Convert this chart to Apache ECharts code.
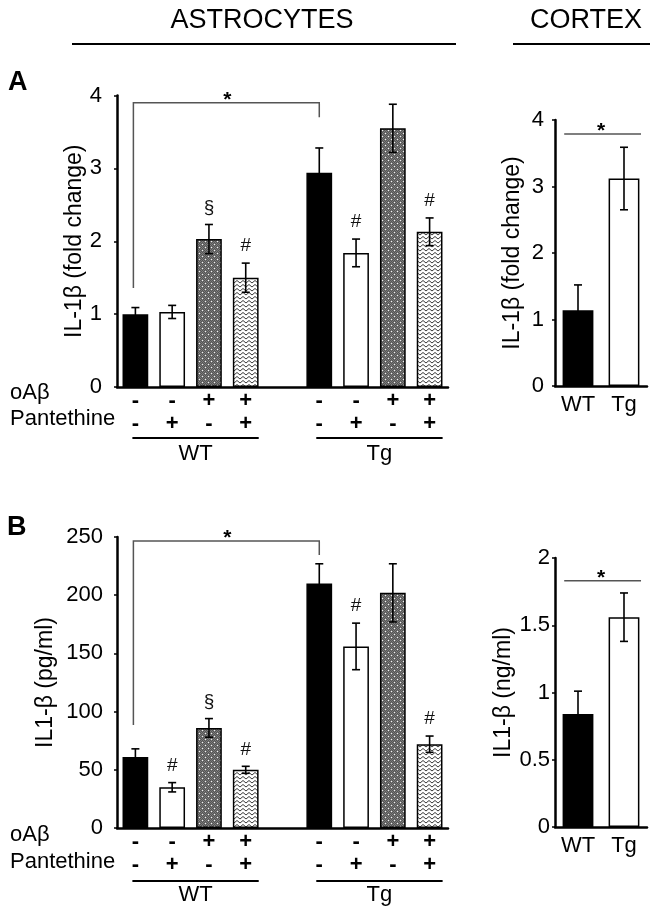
<!DOCTYPE html>
<html><head><meta charset="utf-8">
<script src="https://cdn.jsdelivr.net/npm/echarts@6/dist/echarts.min.js"></script>
<style>html,body{margin:0;padding:0;background:#fff}#c{width:663px;height:913px}</style>
</head><body><div id="c"></div>
<script>
// ---------- data ----------
const astroCats = ['-|-', '-|+', '+|-', '+|+', '', '-|-', '-|+', '+|-', '+|+'];
const astroFills = ['black', 'white', 'dots', 'zigzag', null, 'black', 'white', 'dots', 'zigzag'];
const cortexCats = ['WT', 'Tg'];
const cortexFills = ['black', 'white'];

const astroFold = [1.0, 1.03, 2.03, 1.50, null, 2.94, 1.84, 3.55, 2.13];
const astroFoldErr = [0.09, 0.09, 0.20, 0.20, null, 0.34, 0.19, 0.33, 0.19];
const astroFoldMarks = ['', '', '§', '#', '', '', '#', '', '#'];
const cortexFold = [1.14, 3.12];
const cortexFoldErr = [0.38, 0.47];

const astroPg = [61, 35, 86, 50, null, 210, 156, 202, 72];
const astroPgErr = [7, 4, 8, 3, null, 17, 20, 25, 7];
const astroPgMarks = ['', '#', '§', '#', '', '', '#', '', '#'];
const cortexNg = [0.84, 1.56];
const cortexNgErr = [0.17, 0.18];

// bracket: [fromIndex, toIndex, topValue, leftLegEnd, rightLegEnd]
const astroFoldBracket = [0, 5, 3.9, 1.36, 3.7];
const astroPgBracket = [0, 5, 246.5, 88.5, 234.5];
const cortexFoldLine = 3.79;
const cortexNgLine = 1.83;

const groups = ['WT', 'Tg'];
const groupRanges = [[0, 3], [5, 8]];

// ---------- styling helpers ----------
const FONT = '"Liberation Sans", Arial, sans-serif';

function dotsPattern() {
  const c = document.createElement('canvas'); c.width = 6; c.height = 6;
  const g = c.getContext('2d');
  g.fillStyle = '#7a7a7a'; g.fillRect(0, 0, 6, 6);
  g.fillStyle = '#555';
  for (let y = 0; y < 6; y++) for (let x = 0; x < 6; x++) if ((x + y) % 2 === 0) g.fillRect(x, y, 1, 1);
  g.fillStyle = '#f4f4f4';
  g.fillRect(1, 1, 1, 1); g.fillRect(4, 4, 1, 1);
  return c;
}
function zigzagPattern() {
  const c = document.createElement('canvas'); c.width = 6; c.height = 4;
  const g = c.getContext('2d');
  g.fillStyle = '#fff'; g.fillRect(0, 0, 6, 4);
  g.strokeStyle = '#3a3a3a'; g.lineWidth = 1;
  g.beginPath(); g.moveTo(0, 3); g.lineTo(3, 0.5); g.lineTo(6, 3); g.stroke();
  return c;
}
const DOTS = { image: dotsPattern(), repeat: 'repeat' };
const ZIG = { image: zigzagPattern(), repeat: 'repeat' };
function fillOf(t) {
  return t === 'black' ? '#000' : t === 'white' ? '#fff' : t === 'dots' ? DOTS : ZIG;
}
function barData(vals, fills) {
  return vals.map((v, i) => v == null ? '-' : {
    value: v, itemStyle: { color: fillOf(fills[i]), borderColor: '#000', borderWidth: 1.5 }
  });
}
function errData(vals, errs) {
  const out = [];
  vals.forEach((v, i) => { if (v != null) out.push([i, v - errs[i], v + errs[i]]); });
  return out;
}
function errRender(params, api) {
  const x = api.value(0);
  const lo = api.coord([x, api.value(1)]);
  const hi = api.coord([x, api.value(2)]);
  const hw = 4;
  const st = { stroke: '#000', lineWidth: 1.6 };
  return { type: 'group', children: [
    { type: 'line', shape: { x1: hi[0], y1: hi[1], x2: lo[0], y2: lo[1] }, style: st },
    { type: 'line', shape: { x1: hi[0] - hw, y1: hi[1], x2: hi[0] + hw, y2: hi[1] }, style: st },
    { type: 'line', shape: { x1: lo[0] - hw, y1: lo[1], x2: lo[0] + hw, y2: lo[1] }, style: st }
  ]};
}
function markData(vals, errs, marks) {
  const out = [];
  vals.forEach((v, i) => { if (v != null && marks[i]) out.push([i, v + errs[i], marks[i]]); });
  return out;
}
function markRender(params, api) {
  const p = api.coord([api.value(0), api.value(1)]);
  return { type: 'text', x: p[0], y: p[1] - 17, style: {
    text: api.value(2), fill: '#111', font: '19px ' + FONT, align: 'center', verticalAlign: 'middle' } };
}
function bracketRender(b) {
  return function (params, api) {
    const a = api.coord([b[0], b[2]]);
    const c = api.coord([b[1], b[2]]);
    const la = api.coord([b[0], b[3]]);
    const rc = api.coord([b[1], b[4]]);
    return { type: 'group', children: [
      { type: 'polyline', shape: { points: [[la[0] - 2, la[1]], [a[0] - 2, a[1]], [c[0], c[1]], [rc[0], rc[1]]] }, style: { stroke: '#555', lineWidth: 1.5, fill: null } },
      { type: 'text', x: (a[0] + c[0]) / 2, y: a[1] - 3, style: { text: '*', font: 'bold 21px ' + FONT, fill: '#000', align: 'center', verticalAlign: 'middle' } }
    ]};
  };
}
function lineRender(params, api) {
  const v = api.value(1);
  const bw = api.size([1, 0])[0];
  const a = api.coord([0, v]);
  const c = api.coord([1, v]);
  return { type: 'group', children: [
    { type: 'line', shape: { x1: a[0] - bw * 0.3, y1: a[1], x2: c[0] + bw * 0.37, y2: c[1] }, style: { stroke: '#555', lineWidth: 1.5 } },
    { type: 'text', x: (a[0] + c[0]) / 2, y: a[1] - 3, style: { text: '*', font: 'bold 21px ' + FONT, fill: '#000', align: 'center', verticalAlign: 'middle' } }
  ]};
}

function signFmt(v) { return v ? v.split('|').join('\n') : ''; }

function xCat(grid, data, isSigns) {
  return {
    gridIndex: grid, type: 'category', data: data,
    axisLine: { lineStyle: { color: '#000', width: 2.5 } },
    axisTick: { show: false },
    axisLabel: isSigns
      ? { interval: 0, formatter: signFmt, color: '#000', fontFamily: FONT, fontSize: 22, fontWeight: 'bold', lineHeight: 23, margin: 2 }
      : { interval: 0, color: '#000', fontFamily: FONT, fontSize: 22, margin: 8 }
  };
}
function yVal(grid, max, interval, name, gap, margin) {
  return {
    gridIndex: grid, type: 'value', min: 0, max: max, interval: interval,
    axisLine: { show: true, lineStyle: { color: '#000', width: 2.5 } },
    axisTick: { show: true, length: 3, lineStyle: { color: '#000', width: 1.5 } },
    splitLine: { show: false },
    axisLabel: { color: '#000', fontFamily: FONT, fontSize: 22, margin: margin },
    name: name, nameLocation: 'middle', nameGap: gap,
    nameTextStyle: { color: '#000', fontFamily: FONT, fontSize: 23 }
  };
}

const chart = echarts.init(document.getElementById('c'));
const option = {
  animation: false,
  backgroundColor: '#fff',
  grid: [
    { left: 117, top: 95.5, width: 331, height: 291.5 },
    { left: 555, top: 120, width: 92, height: 266 },
    { left: 117, top: 537, width: 331, height: 291 },
    { left: 555, top: 558, width: 92, height: 269 }
  ],
  xAxis: [
    xCat(0, astroCats, true), xCat(1, cortexCats, false),
    xCat(2, astroCats, true), xCat(3, cortexCats, false)
  ],
  yAxis: [
    yVal(0, 4, 1, 'IL-1β (fold change)', 30, 15),
    yVal(1, 4, 1, 'IL-1β (fold change)', 31, 11),
    yVal(2, 250, 50, 'IL1-β (pg/ml)', 60, 14),
    yVal(3, 2, 0.5, 'IL1-β (ng/ml)', 38, 5)
  ],
  series: [
    { type: 'bar', xAxisIndex: 0, yAxisIndex: 0, barWidth: '70%', data: barData(astroFold, astroFills) },
    { type: 'custom', xAxisIndex: 0, yAxisIndex: 0, renderItem: errRender, data: errData(astroFold, astroFoldErr), encode: { x: 0, y: [1, 2] }, clip: false, z: 3 },
    { type: 'custom', xAxisIndex: 0, yAxisIndex: 0, renderItem: markRender, data: markData(astroFold, astroFoldErr, astroFoldMarks), encode: { x: 0, y: 1 }, clip: false, z: 3 },
    { type: 'custom', xAxisIndex: 0, yAxisIndex: 0, renderItem: bracketRender(astroFoldBracket), data: [[0, astroFoldBracket[2]]], encode: { x: 0, y: 1 }, clip: false, z: 3 },

    { type: 'bar', xAxisIndex: 1, yAxisIndex: 1, barWidth: '67%', data: barData(cortexFold, cortexFills) },
    { type: 'custom', xAxisIndex: 1, yAxisIndex: 1, renderItem: errRender, data: errData(cortexFold, cortexFoldErr), encode: { x: 0, y: [1, 2] }, clip: false, z: 3 },
    { type: 'custom', xAxisIndex: 1, yAxisIndex: 1, renderItem: lineRender, data: [[0, cortexFoldLine]], encode: { x: 0, y: 1 }, clip: false, z: 3 },

    { type: 'bar', xAxisIndex: 2, yAxisIndex: 2, barWidth: '70%', data: barData(astroPg, astroFills) },
    { type: 'custom', xAxisIndex: 2, yAxisIndex: 2, renderItem: errRender, data: errData(astroPg, astroPgErr), encode: { x: 0, y: [1, 2] }, clip: false, z: 3 },
    { type: 'custom', xAxisIndex: 2, yAxisIndex: 2, renderItem: markRender, data: markData(astroPg, astroPgErr, astroPgMarks), encode: { x: 0, y: 1 }, clip: false, z: 3 },
    { type: 'custom', xAxisIndex: 2, yAxisIndex: 2, renderItem: bracketRender(astroPgBracket), data: [[0, astroPgBracket[2]]], encode: { x: 0, y: 1 }, clip: false, z: 3 },

    { type: 'bar', xAxisIndex: 3, yAxisIndex: 3, barWidth: '67%', data: barData(cortexNg, cortexFills) },
    { type: 'custom', xAxisIndex: 3, yAxisIndex: 3, renderItem: errRender, data: errData(cortexNg, cortexNgErr), encode: { x: 0, y: [1, 2] }, clip: false, z: 3 },
    { type: 'custom', xAxisIndex: 3, yAxisIndex: 3, renderItem: lineRender, data: [[0, cortexNgLine]], encode: { x: 0, y: 1 }, clip: false, z: 3 }
  ]
};
chart.setOption(option);

// ---------- layout decorations ----------
const gfx = [];
function txt(x, y, text, font, align) {
  gfx.push({ type: 'text', x: x, y: y, style: { text: text, font: font, fill: '#000', align: align || 'center', verticalAlign: 'middle' } });
}
function hline(x1, x2, y, w) {
  gfx.push({ type: 'line', shape: { x1: x1, y1: y, x2: x2, y2: y }, style: { stroke: '#000', lineWidth: w } });
}
txt(262, 21, 'ASTROCYTES', '27px ' + FONT);
hline(72, 456, 44, 2.2);
txt(586, 21, 'CORTEX', '27px ' + FONT);
hline(513, 650, 44, 2.2);
txt(8, 83, 'A', 'bold 27px ' + FONT, 'left');
txt(7, 528, 'B', 'bold 27px ' + FONT, 'left');

[[0, 393, 419, 438, 454], [2, 835, 862, 881, 895]].forEach(function (r) {
  const gi = r[0];
  txt(10, r[1], 'oAβ', '22px ' + FONT, 'left');
  txt(10, r[2], 'Pantethine', '22px ' + FONT, 'left');
  groupRanges.forEach(function (rg, k) {
    const a = chart.convertToPixel({ gridIndex: gi }, [rg[0], 0]);
    const b = chart.convertToPixel({ gridIndex: gi }, [rg[1], 0]);
    const x1 = a[0] - 3, x2 = b[0] + 13;
    hline(x1, x2, r[3], 1.8);
    txt((x1 + x2) / 2, r[4], groups[k], '22px ' + FONT);
  });
});
chart.setOption({ graphic: gfx });
</script>
</body></html>
